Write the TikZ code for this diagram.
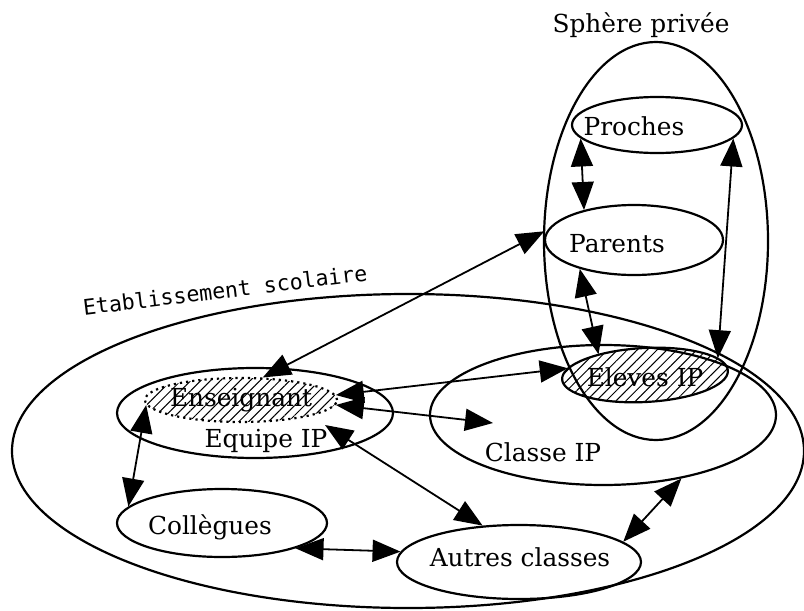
\documentclass[tikz,border=0pt]{standalone}
\usepackage{fontspec}
\setmainfont{DejaVu Serif}
\newfontfamily\matrice{DejaVu Sans Mono}
\usetikzlibrary{arrows.meta,shapes.geometric,patterns.meta}

\begin{document}
\begin{tikzpicture}[x=0.5pt, y=-0.5pt, >={Triangle[length=14pt,width=11pt]},
    bulle/.style={draw, ellipse, line width=1.1pt, inner sep=0pt},
    hachure/.style={pattern={Lines[angle=45,distance=3.5pt,line width=0.5pt]}},
    lien/.style={<->, line width=0.9pt},
    etiq/.style={font=\fontsize{12.4}{14}\selectfont}]
  \useasboundingbox (0,0) rectangle (804,611);

  % ensembles (taille en pt = demi-axes en px)
  \node[bulle, minimum width=396pt, minimum height=157pt] (etab) at (408,451) {};
  \node[bulle, minimum width=112pt, minimum height=199pt] (spher) at (656,241) {};
  \node[bulle, minimum width=85pt, minimum height=28pt] (proches) at (657,125) {};
  \node[bulle, minimum width=89pt, minimum height=35pt] (parents) at (634,240) {};
  \node[bulle, minimum width=173pt, minimum height=70pt] (classe) at (603,415) {};
  \node[bulle, hachure, rotate=3, minimum width=83pt, minimum height=27pt] (eleves) at (645,375) {};
  \node[bulle, minimum width=138pt, minimum height=45pt] (equipe) at (255,413) {};
  \node[bulle, draw=none, hachure, postaction={draw, dotted, line width=1.1pt},
        minimum width=96pt, minimum height=22pt] (enseig) at (241,400) {};
  \node[bulle, minimum width=105pt, minimum height=34pt] (colleg) at (222,523) {};
  \node[bulle, minimum width=122pt, minimum height=37pt] (autres) at (519,562) {};

  % textes
  \node[etiq] (tSpher) at (641,25) {Sphère privée};
  \node[etiq] (tProches) at (634,126) {Proches};
  \node[etiq] (tParents) at (617,244) {Parents};
  \node[font=\matrice\fontsize{10.8}{12}\selectfont, rotate=7] (tEtab) at (225,290) {Etablissement scolaire};
  \node[etiq] (tEnseig) at (241,400) {Enseignant};
  \node[etiq] (tEquipe) at (266,441) {Equipe IP};
  \node[etiq] (tEleves) at (645,377) {Eleves IP};
  \node[etiq] (tClasse) at (543,452) {Classe IP};
  \node[etiq] (tColleg) at (210,527) {Collègues};
  \node[etiq] (tAutres) at (520,557) {Autres classes};

  % bouts libres a l'interieur des ellipses
  \coordinate (cIP) at (493,423);
  \coordinate (eqIP) at (325,425);

  % relations
  \draw[lien] (proches.190) -- (parents.149);
  \draw[lien] (proches.350) -- (eleves.10);
  \draw[lien] (parents.208) -- (eleves.153);
  \draw[lien, shorten >=2pt] (enseig.46) -- (parents.173);
  \draw[lien] (enseig.3) -- (eleves.172);
  \draw[lien] (enseig.357) -- (cIP);
  \draw[lien] (eqIP) -- (autres.135);
  \draw[lien] (enseig.183) -- (colleg.170);
  \draw[lien] (colleg.341) -- (autres.175);
  \draw[lien] (classe.321) -- (autres.11);
\end{tikzpicture}
\end{document}
